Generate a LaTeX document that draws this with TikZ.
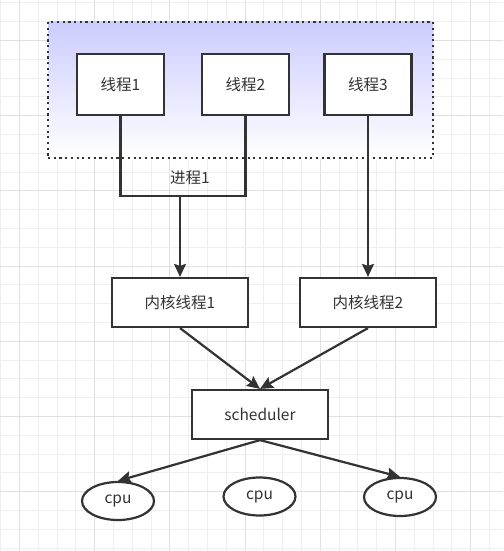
\documentclass[tikz,border=0pt]{standalone}
\usepackage{fontspec}
\setmainfont{Noto Sans CJK SC}
\usetikzlibrary{arrows.meta,shapes.geometric}
\definecolor{edge}{RGB}{51,51,51}
\definecolor{procfill}{RGB}{204,204,255}
\definecolor{gridminor}{RGB}{239,239,239}
\definecolor{gridmajor}{RGB}{224,224,224}

\begin{document}
\begin{tikzpicture}[
  x=1pt, y=-1pt,
  box/.style={draw=edge, line width=2.2pt, fill=white, inner sep=0pt, text=edge,
              minimum width=87pt, minimum height=61pt, font=\fontsize{15.5}{18}\selectfont},
  kbox/.style={box, minimum width=136pt, minimum height=49pt},
  cpunode/.style={ellipse, draw=edge, line width=2.2pt, fill=white, inner sep=0pt, text=edge,
                  minimum width=72pt, minimum height=38pt, font=\fontsize{15.5}{18}\selectfont},
  procbox/.style={draw=edge, line width=2.2pt, dash pattern=on 2.2pt off 3.5pt,
                  top color=procfill, bottom color=white, minimum width=385pt, minimum height=136pt},
  link/.style={draw=edge, line width=2.2pt},
  arrow/.style={link, -{Stealth[length=13pt, width=12pt, inset=2pt]}},
]
\useasboundingbox (0,0) rectangle (503,551);
\fill[white] (0,0) rectangle (503,551);

% Grid
\foreach \k in {0,...,26} {
  \pgfmathtruncatemacro{\m}{mod(\k,4)}
  \ifnum\m=1 \def\gc{gridmajor}\else\def\gc{gridminor}\fi
  \draw[\gc, line width=0.8pt] (0.5+18.8*\k, 0) -- (0.5+18.8*\k, 551);
}
\foreach \k in {0,...,29} {
  \pgfmathtruncatemacro{\m}{mod(\k,4)}
  \ifnum\m=2 \def\gc{gridmajor}\else\def\gc{gridminor}\fi
  \draw[\gc, line width=0.8pt] (0, 2.7+18.8*\k) -- (503, 2.7+18.8*\k);
}

% Process
\node[procbox] (proc) at (240.5,90) {};
\node[box] (t1) at (120.5,84.5) {线程1};
\node[box] (t2) at (245.5,84.5) {线程2};
\node[box] (t3) at (368,84.5) {线程3};
\node[text=edge, font=\fontsize{15.5}{18}\selectfont] (pname) at (190,178) {进程1};
\coordinate (join) at (180,196);

% Kernel threads, scheduler, cpus
\node[kbox] (kt1) at (180,302.5) {内核线程1};
\node[kbox] (kt2) at (368,302.5) {内核线程2};
\node[kbox] (sched) at (260,414.5) {scheduler};
\node[cpunode] (cpu1) at (118,501) {cpu};
\node[cpunode] (cpu2) at (259.5,496.5) {cpu};
\node[cpunode] (cpu3) at (400,497) {cpu};

% Connectors
\draw[link] (t1) -- (t1 |- join) -- (t2 |- join) -- (t2);
\draw[arrow] (join) -- (kt1);
\draw[arrow] (t3) -- (kt2);
\draw[arrow] (kt1.south) -- (sched.north);
\draw[arrow] (kt2.south) -- (sched.north);
\draw[arrow] (sched.south) -- (cpu1.north);
\draw[arrow] (sched.south) -- (cpu3.north);
\end{tikzpicture}
\end{document}
